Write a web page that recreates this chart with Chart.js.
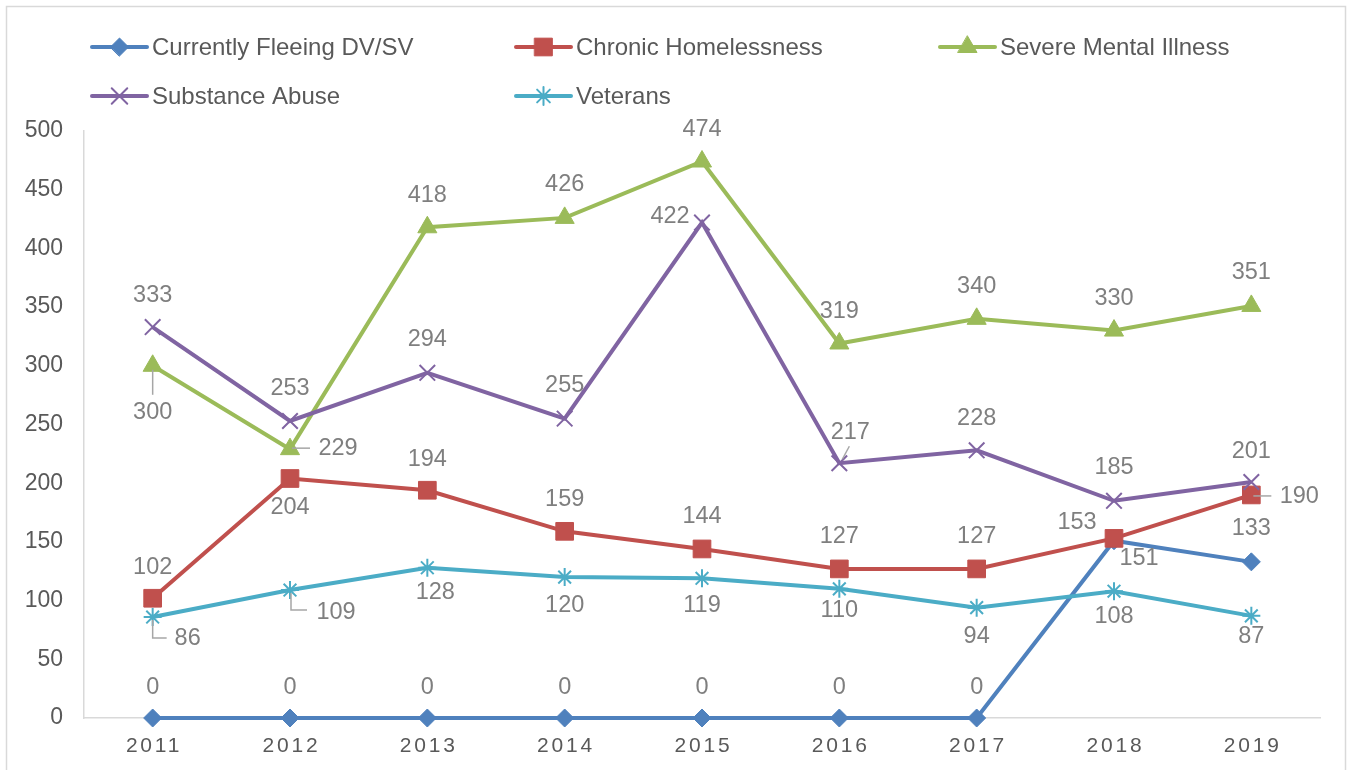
<!DOCTYPE html>
<html>
<head>
<meta charset="utf-8">
<script src="https://cdn.jsdelivr.net/npm/chart.js@4/dist/chart.umd.min.js"></script>
<style>
  html, body { margin: 0; padding: 0; background: #fff; }
  #wrap { width: 1351px; height: 770px; position: relative; }
</style>
</head>
<body>
<div id="wrap"><canvas id="c" width="1351" height="770"></canvas></div>
<script>
// ---- data ----
const years = ['2011', '2012', '2013', '2014', '2015', '2016', '2017', '2018', '2019'];
const fleeing = [0, 0, 0, 0, 0, 0, 0, 151, 133];
const chronic = [102, 204, 194, 159, 144, 127, 127, 153, 190];
const mental = [300, 229, 418, 426, 474, 319, 340, 330, 351];
const substance = [333, 253, 294, 255, 422, 217, 228, 185, 201];
const veterans = [86, 109, 128, 120, 119, 110, 94, 108, 87];
const seriesNames = ['Currently Fleeing DV/SV', 'Chronic Homelessness', 'Severe Mental Illness', 'Substance Abuse', 'Veterans'];
const yTicks = { min: 0, max: 500, step: 50 };

// ---- styles ----
const colors = ['#4F81BD', '#C0504D', '#9BBB59', '#8064A2', '#4BACC6'];
const pStyles = ['rectRot', 'rect', 'triangle', 'crossRot', 'star'];
const pRadius = [9, 12.5, 11, 11, 9];
const FONT = '"Liberation Sans", Arial, sans-serif';

// data-label placement (pixel offsets from the point), leader lines
const labelOffsets = [
  [[0,-30],[0,-30],[0,-30],[0,-30],[0,-30],[0,-30],[0,-30],[25,18],[0,-33]],
  [[0,-31],[0,29],[0,-31],[0,-32],[0,-32],[0,-32],[0,-32],[-37,-16],[48,2]],
  [[0,47],[48,-1],[0,-32],[0,-33],[0,-32],[0,-32],[0,-32],[0,-32],[0,-33]],
  [[0,-32],[0,-32],[0,-33],[0,-33],[-32,-6],[11,-31],[0,-32],[0,-33],[0,-31]],
  [[35,21],[46,22],[8,25],[0,28],[0,27],[0,22],[0,29],[0,25],[0,21]]
];
const leaders = {
  '1-8': [[2,1],[20,1]],
  '2-0': [[0,4],[0,29]],
  '2-1': [[2,-1],[20,-1]],
  '3-5': [[3,-4],[10,-17]],
  '4-0': [[0,3],[0,21],[14,21]],
  '4-1': [[1,3],[1,20],[17,20]]
};

const allSeries = [fleeing, chronic, mental, substance, veterans];

const datasets = allSeries.map((d, i) => ({
  label: seriesNames[i],
  data: d,
  borderColor: colors[i],
  backgroundColor: colors[i],
  borderWidth: 4,
  pointStyle: pStyles[i],
  pointRadius: pRadius[i],
  pointHoverRadius: pRadius[i],
  pointBorderWidth: (pStyles[i] === 'crossRot' || pStyles[i] === 'star') ? 2 : 1,
  pointBackgroundColor: colors[i],
  pointBorderColor: colors[i],
  tension: 0,
  clip: false,
  order: 5 - i
}));

const framePlugin = {
  id: 'frame',
  beforeDraw(chart) {
    const ctx = chart.ctx;
    ctx.save();
    ctx.fillStyle = '#fff';
    ctx.fillRect(0, 0, chart.width, chart.height);
    ctx.strokeStyle = '#d9d9d9';
    ctx.lineWidth = 1.5;
    ctx.strokeRect(6.5, 6.5, 1339, 800);
    ctx.restore();
  }
};

const legendPlugin = {
  id: 'customLegend',
  afterDraw(chart) {
    const ctx = chart.ctx;
    const cols = [92, 516, 940];
    const rows = [47, 96];
    ctx.save();
    chart.data.datasets.forEach((ds, i) => {
      const x = cols[i % 3];
      const y = rows[Math.floor(i / 3)];
      ctx.strokeStyle = ds.borderColor;
      ctx.lineWidth = 4;
      ctx.lineCap = 'round';
      ctx.beginPath();
      ctx.moveTo(x, y);
      ctx.lineTo(x + 55, y);
      ctx.stroke();
      ctx.fillStyle = ds.borderColor;
      ctx.strokeStyle = ds.borderColor;
      ctx.lineWidth = ds.pointBorderWidth;
      Chart.helpers.drawPoint(ctx, { pointStyle: ds.pointStyle, radius: ds.pointRadius, rotation: 0, borderWidth: ds.pointBorderWidth }, x + 27.5, y);
      ctx.fillStyle = '#595959';
      ctx.font = '24px ' + FONT;
      ctx.textAlign = 'left';
      ctx.textBaseline = 'middle';
      ctx.fillText(ds.label, x + 60, y + 1);
    });
    ctx.restore();
  }
};

const labelPlugin = {
  id: 'pointLabels',
  afterDatasetsDraw(chart) {
    const ctx = chart.ctx;
    ctx.save();
    ctx.font = '23.5px ' + FONT;
    ctx.textAlign = 'center';
    ctx.textBaseline = 'middle';
    chart.data.datasets.forEach((ds, i) => {
      const meta = chart.getDatasetMeta(i);
      meta.data.forEach((pt, j) => {
        const key = i + '-' + j;
        if (leaders[key]) {
          ctx.strokeStyle = '#a6a6a6';
          ctx.lineWidth = 1.5;
          ctx.beginPath();
          leaders[key].forEach((p, k) => {
            if (k === 0) ctx.moveTo(pt.x + p[0], pt.y + p[1]);
            else ctx.lineTo(pt.x + p[0], pt.y + p[1]);
          });
          ctx.stroke();
        }
        const off = labelOffsets[i][j];
        ctx.fillStyle = '#7f7f7f';
        ctx.fillText(String(ds.data[j]), pt.x + off[0], pt.y + off[1]);
      });
    });
    ctx.restore();
  }
};

const spacingPlugin = {
  id: 'xSpacing',
  afterLayout(chart) {
    const xs = chart.scales.x;
    if (xs._spacedPatched) return;
    const orig = Object.getPrototypeOf(xs).drawLabels;
    xs.drawLabels = function (area) {
      const ctx = this.ctx;
      ctx.save();
      ctx.letterSpacing = '2.8px';
      ctx.translate(1.4, 0);
      orig.call(this, area);
      ctx.restore();
    };
    xs._spacedPatched = true;
  }
};

new Chart(document.getElementById('c'), {
  type: 'line',
  data: { labels: years, datasets },
  options: {
    responsive: false,
    animation: false,
    devicePixelRatio: 1,
    layout: { padding: { left: 0, top: 131, right: 31, bottom: 0 } },
    plugins: {
      legend: { display: false },
      tooltip: { enabled: false }
    },
    scales: {
      x: {
        offset: true,
        grid: { display: false, drawTicks: false },
        border: { display: true, color: '#d9d9d9', width: 1.5 },
        ticks: { color: '#595959', font: { family: FONT, size: 21 }, padding: 16, maxRotation: 0, autoSkip: false },
        afterFit(scale) { scale.height = 52; }
      },
      y: {
        min: yTicks.min,
        max: yTicks.max,
        grid: { display: false, drawTicks: false },
        border: { display: true, color: '#d9d9d9', width: 1.5 },
        ticks: { stepSize: yTicks.step, color: '#595959', font: { family: FONT, size: 23 }, padding: 21 },
        afterFit(scale) { scale.width = 84; }
      }
    }
  },
  plugins: [framePlugin, spacingPlugin, labelPlugin, legendPlugin]
});
</script>
</body>
</html>
